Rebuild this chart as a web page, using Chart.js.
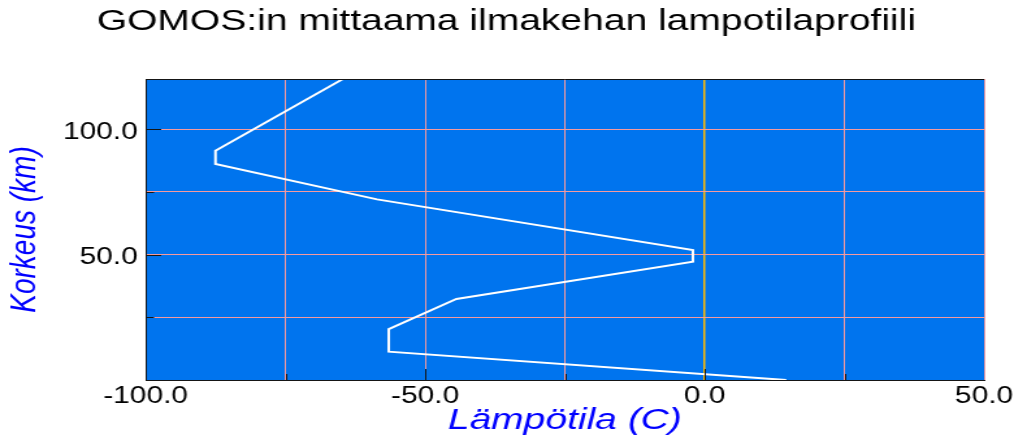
<!DOCTYPE html>
<html lang="fi">
<head>
<meta charset="utf-8">
<title>GOMOS:in mittaama ilmakehan lampotilaprofiili</title>
<script src="https://cdn.jsdelivr.net/npm/chart.js@4/dist/chart.umd.min.js"></script>
<style>
    html, body { margin: 0; padding: 0; background: #fff; overflow: hidden; }
    /* the reference is a horizontally stretched picture, so the canvas is stretched the same way */
    #wrap { width: 786px; height: 439px; transform: scaleX(1.3); transform-origin: 0 0; }
    canvas { display: block; }
</style>
</head>
<body>
<div id="wrap"><canvas id="profile-chart" width="786" height="439"></canvas></div>
<script>
// Chart data
const title = 'GOMOS:in mittaama ilmakehan lampotilaprofiili';
const xTitle = 'Lämpötila (C)';
const yTitle = 'Korkeus (km)';
const temperatures = [14.6, -56.5, -56.5, -44.4, -2.1, -2.1, -58.6, -87.5, -87.5, -64.7];
const heights = [0, 11.3, 20.3, 32.3, 47.2, 51.8, 72, 86.1, 91.4, 120];
const xRange = [-100, 50];
const yRange = [0, 120];
const tickStep = 25;
const labelStep = 50;

const fontFamily = "'Liberation Sans', Arial, sans-serif";
const plotBlue = '#0074EE';
const gridPink = '#F59A9E';
const zeroLine = '#FFBA00';
const frameColor = '#151515';

// Blue plot area, top frame line and the short inward tick marks
const plotFrame = {
    id: 'plotFrame',
    beforeDraw(chart) {
        const { ctx, chartArea: a } = chart;
        ctx.save();
        ctx.fillStyle = plotBlue;
        ctx.fillRect(a.left, a.top, a.right - a.left, a.bottom - a.top);
        ctx.restore();
    },
    afterDraw(chart) {
        const { ctx, chartArea: a, scales: { x, y } } = chart;
        ctx.save();
        ctx.strokeStyle = frameColor;
        ctx.lineWidth = 1;
        ctx.beginPath();
        x.ticks.forEach(t => {
            if (t.value <= x.min || t.value >= x.max) return;
            const px = Math.round(x.getPixelForValue(t.value)) + 0.5;
            const len = t.value % labelStep === 0 ? 11 : 6;
            ctx.moveTo(px, a.bottom);
            ctx.lineTo(px, a.bottom - len);
        });
        y.ticks.forEach(t => {
            if (t.value <= y.min || t.value >= y.max) return;
            const py = Math.round(y.getPixelForValue(t.value)) + 0.5;
            const len = t.value % labelStep === 0 ? 12 : 6.5;
            ctx.moveTo(a.left, py);
            ctx.lineTo(a.left + len, py);
        });
        ctx.moveTo(a.left, Math.round(a.top) + 0.5);
        ctx.lineTo(a.right, Math.round(a.top) + 0.5);
        ctx.stroke();
        ctx.restore();
    }
};

const fmt = (value, skipZero) => {
    if (value % labelStep !== 0) return '';
    if (skipZero && value === 0) return '';
    return value.toFixed(1);
};

const profileChart = {
    init() {
        const ctx = document.getElementById('profile-chart');
        if (!ctx) return;

        new Chart(ctx, {
            type: 'scatter',
            data: {
                datasets: [{
                    label: title,
                    data: temperatures.map((t, i) => ({ x: t, y: heights[i] })),
                    showLine: true,
                    borderColor: '#FFFFFF',
                    borderWidth: 2,
                    pointRadius: 0,
                    tension: 0
                }]
            },
            options: {
                responsive: false,
                devicePixelRatio: 1,
                animation: false,
                layout: { padding: { left: 0, right: 7, top: 0, bottom: 0 } },
                plugins: {
                    legend: { display: false },
                    tooltip: { enabled: false },
                    title: {
                        display: true,
                        text: title,
                        color: '#000',
                        font: { family: fontFamily, size: 30, weight: 'normal' },
                        padding: { top: 3.5, bottom: 39.5 }
                    }
                },
                scales: {
                    x: {
                        type: 'linear',
                        position: 'bottom',
                        min: xRange[0],
                        max: xRange[1],
                        grid: {
                            color: c => (c.tick && c.tick.value === 0 ? zeroLine : gridPink),
                            lineWidth: c => (c.tick && c.tick.value === 0 ? 1.5 : 1),
                            drawTicks: false
                        },
                        border: { display: true, color: frameColor, width: 1 },
                        ticks: {
                            stepSize: tickStep,
                            autoSkip: false,
                            maxRotation: 0,
                            padding: 3,
                            color: '#000',
                            font: { family: fontFamily, size: 23 },
                            callback: v => fmt(v, false)
                        },
                        title: {
                            display: true,
                            text: xTitle,
                            color: '#0000FF',
                            font: { family: fontFamily, size: 30, style: 'italic' },
                            padding: { top: 0, bottom: 0 }
                        },
                        afterFit: scale => {
                            scale.height = 59;
                            scale.paddingRight = 29;
                        }
                    },
                    y: {
                        type: 'linear',
                        position: 'left',
                        min: yRange[0],
                        max: yRange[1],
                        grid: { color: gridPink, lineWidth: 1, drawTicks: false },
                        border: { display: true, color: frameColor, width: 1 },
                        ticks: {
                            stepSize: tickStep,
                            includeBounds: false,
                            padding: 6,
                            labelOffset: 3,
                            color: '#000',
                            font: { family: fontFamily, size: 23 },
                            callback: v => fmt(v, true)
                        },
                        title: {
                            display: true,
                            text: yTitle,
                            color: '#0000FF',
                            font: { family: fontFamily, size: 28, style: 'italic' },
                            padding: { top: 2, bottom: 0 }
                        },
                        afterFit: scale => { scale.width = 112; }
                    }
                }
            },
            plugins: [plotFrame]
        });
    }
};

document.addEventListener('DOMContentLoaded', () => {
    profileChart.init();
});
</script>
</body>
</html>
